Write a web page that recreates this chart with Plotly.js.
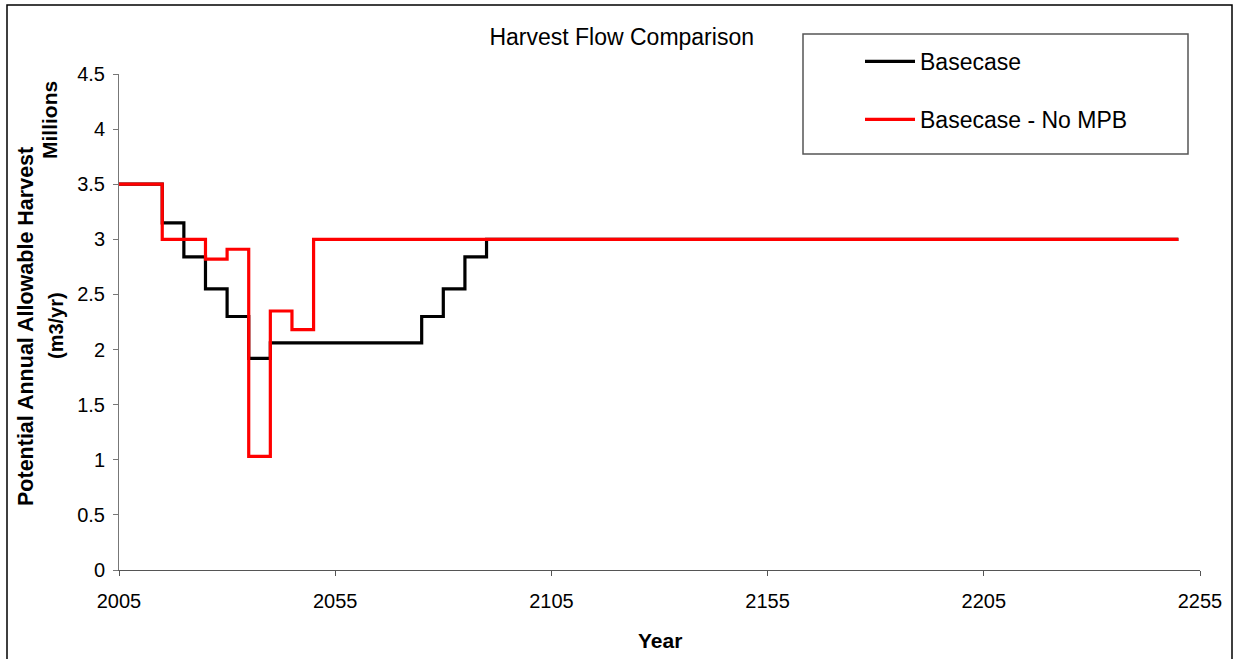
<!DOCTYPE html>
<html>
<head>
<meta charset="utf-8">
<script src="https://cdn.plot.ly/plotly-3.0.1.min.js"></script>
<style>html,body{margin:0;padding:0;background:#fff;}#chart{width:1235px;height:659px;}</style>
</head>
<body>
<div id="chart"></div>
<script>
// ---- data ----
const chartTitle = "Harvest Flow Comparison";
const seriesNames = ["Basecase", "Basecase - No MPB"];
const basecaseYears = [2005, 2015, 2020, 2025, 2030, 2035, 2040, 2075, 2080, 2085, 2090, 2250];
const basecaseValues = [3.5, 3.15, 2.84, 2.55, 2.30, 1.92, 2.06, 2.30, 2.55, 2.84, 3.0, 3.0];
const noMpbYears = [2005, 2015, 2025, 2030, 2035, 2040, 2045, 2050, 2250];
const noMpbValues = [3.5, 3.0, 2.82, 2.91, 1.03, 2.35, 2.18, 3.0, 3.0];
const xTickValues = [2005, 2055, 2105, 2155, 2205, 2255];
const yTickValues = [0, 0.5, 1, 1.5, 2, 2.5, 3, 3.5, 4, 4.5];
const yTitleMain = "Potential Annual Allowable Harvest";
const yTitleUnit = "(m3/yr)";
const yMultiplier = "Millions";
const xTitle = "Year";

// ---- layout geometry ----
const W = 1235, H = 659;
const M = {l: 119, r: 35, t: 74, b: 89};
const PW = W - M.l - M.r, PH = H - M.t - M.b;
const px = x => (x - M.l) / PW;          // pixel -> paper x
const py = y => (H - M.b - y) / PH;      // pixel -> paper y
const FONT = "Liberation Sans, Arial, sans-serif";

const traces = [
  {x: basecaseYears, y: basecaseValues, name: seriesNames[0], type: "scatter", mode: "lines",
   legendgroup: "a", line: {color: "#000000", width: 3.2, shape: "hv"}},
  {x: noMpbYears, y: noMpbValues, name: seriesNames[1], type: "scatter", mode: "lines",
   legendgroup: "b", line: {color: "#ff0000", width: 3.2, shape: "hv"}}
];

const layout = {
  width: W, height: H,
  margin: M,
  paper_bgcolor: "#ffffff", plot_bgcolor: "#ffffff",
  font: {family: FONT, color: "#000"},
  showlegend: true,
  title: {text: chartTitle, font: {family: FONT, size: 23, color: "#000"},
          xref: "container", x: 621.7 / W, xanchor: "center",
          yref: "container", y: 1 - 37 / H, yanchor: "middle"},
  xaxis: {range: [2005, 2255], tickvals: xTickValues, ticktext: xTickValues.map(String),
          showgrid: false, zeroline: false, showline: true, linecolor: "#555", linewidth: 1,
          ticks: "outside", ticklen: 5, tickcolor: "#555", ticklabelstandoff: 8,
          tickfont: {family: FONT, size: 20, color: "#000"}},
  yaxis: {range: [0, 4.5], tickvals: yTickValues, ticktext: yTickValues.map(String),
          showgrid: false, zeroline: false, showline: true, linecolor: "#777", linewidth: 1,
          ticks: "outside", ticklen: 5, tickcolor: "#777", ticklabelstandoff: 4,
          tickfont: {family: FONT, size: 20, color: "#000"}},
  legend: {x: px(860), y: py(40), xanchor: "left", yanchor: "top",
           bgcolor: "rgba(0,0,0,0)", borderwidth: 0,
           font: {family: FONT, size: 23, color: "#000"},
           tracegroupgap: 25, itemwidth: 50, traceorder: "grouped"},
  shapes: [
    {type: "rect", xref: "paper", yref: "paper", x0: px(7), x1: px(1232), y0: py(668), y1: py(5),
     line: {color: "#000", width: 1.5}, fillcolor: "rgba(0,0,0,0)", layer: "below"},
    {type: "rect", xref: "paper", yref: "paper", x0: px(803), x1: px(1188), y0: py(154), y1: py(34),
     line: {color: "#555", width: 1.5}, fillcolor: "#ffffff", layer: "below"}
  ],
  annotations: [
    {text: "<b>" + yTitleMain + "</b>", xref: "paper", yref: "paper", x: px(26), y: py(327),
     xanchor: "center", yanchor: "middle", textangle: -90, showarrow: false,
     font: {family: FONT, size: 21.5, color: "#000"}},
    {text: "<b>" + yTitleUnit + "</b>", xref: "paper", yref: "paper", x: px(56), y: py(326),
     xanchor: "center", yanchor: "middle", textangle: -90, showarrow: false,
     font: {family: FONT, size: 20, color: "#000"}},
    {text: "<b>" + yMultiplier + "</b>", xref: "paper", yref: "paper", x: px(49), y: py(120),
     xanchor: "center", yanchor: "middle", textangle: -90, showarrow: false,
     font: {family: FONT, size: 21, color: "#000"}},
    {text: "<b>" + xTitle + "</b>", xref: "paper", yref: "paper", x: px(660), y: py(640),
     xanchor: "center", yanchor: "middle", showarrow: false,
     font: {family: FONT, size: 21, color: "#000"}}
  ]
};

Plotly.newPlot("chart", traces, layout, {staticPlot: true, displayModeBar: false});
</script>
</body>
</html>
